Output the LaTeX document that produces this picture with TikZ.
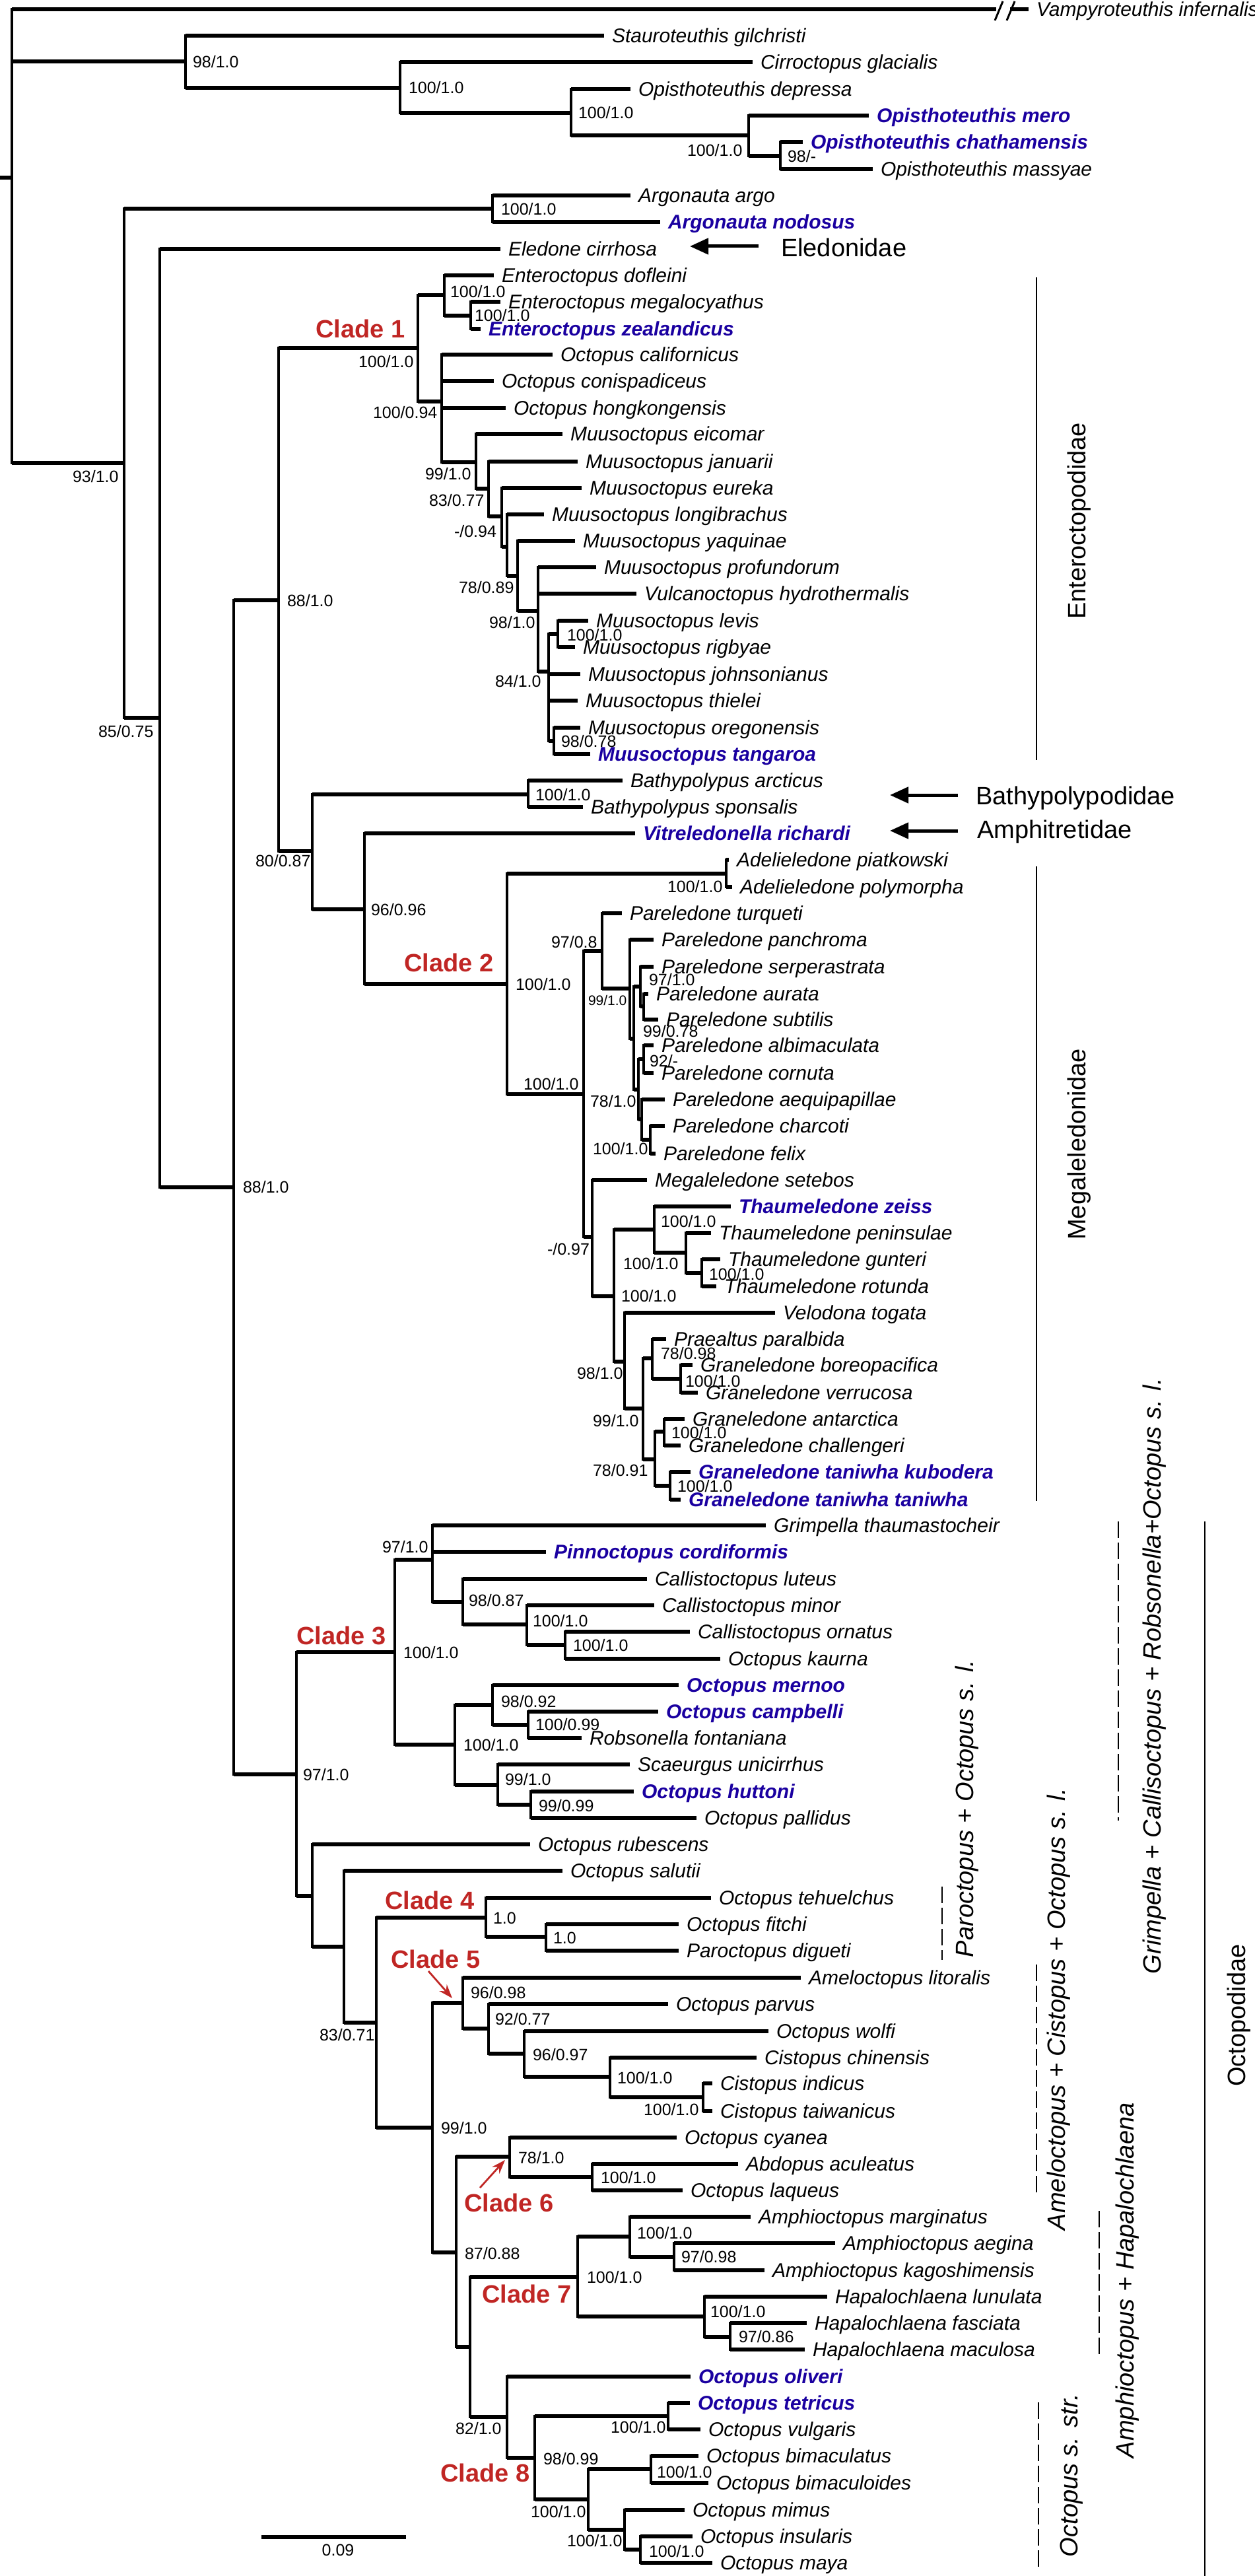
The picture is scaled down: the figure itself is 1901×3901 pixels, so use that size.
\documentclass[tikz,border=0pt]{standalone}
\usepackage{fontspec}
\setmainfont{Liberation Sans}
\usetikzlibrary{arrows.meta}
\definecolor{cladered}{RGB}{192,38,36}
\definecolor{taxblue}{RGB}{26,0,160}
\newcommand\taxfont{\fontsize{6pt}{7pt}\selectfont\itshape}
\newcommand\taxbfont{\fontsize{6pt}{7pt}\selectfont\bfseries\itshape}
\newcommand\phybr[2]{\draw[vbr] (#1) -- (#1 |- #2); \draw[hbr] (#1 |- #2) -- (#2);}
\newcommand\phyin[4]{\coordinate (#2) at (#3,#4); \phybr{#1}{#2}}
\newcommand\phylf[5]{\node[taxon] (#2) at (#3,#4) {#5}; \phybr{#1}{#2.west}}
\newcommand\phylb[5]{\node[btaxon] (#2) at (#3,#4) {#5}; \phybr{#1}{#2.west}}
\newcommand\physup[4]{\node[supp] (#1) at (#2,#3) {#4};}
\tikzset{
 hbr/.style={line width=1.2pt},
 vbr/.style={line width=0.7pt, line cap=rect},
 taxon/.style={anchor=west, inner xsep=2.2pt, inner ysep=0pt, font=\taxfont, text height=4.3pt, text depth=0pt},
 btaxon/.style={taxon, text=taxblue, font=\taxbfont},
 supp/.style={anchor=west, inner sep=0pt, font=\fontsize{5pt}{6pt}\selectfont, text height=3.58pt, text depth=0pt},
 clade/.style={inner sep=0pt, text=cladered, font=\fontsize{7.6pt}{9pt}\selectfont\bfseries, text height=5.44pt, text depth=0pt},
 fam/.style={anchor=west, inner sep=0pt, font=\fontsize{7.6pt}{9pt}\selectfont, text height=5.44pt, text depth=0pt},
 grp/.style={rotate=90, inner sep=0pt, font=\fontsize{7.6pt}{9pt}\selectfont, text height=5.44pt, text depth=0pt},
 bar/.style={line width=0.5pt},
 dbar/.style={line width=0.5pt, dash pattern=on 5pt off 1.4pt},
 famarrow/.style={line width=1pt, -{Triangle[length=5.6pt,width=4.8pt]}},
 redarrow/.style={draw=cladered, line width=0.55pt, -{Stealth[length=4.2pt,width=3pt]}},
}
\begin{document}
\begin{tikzpicture}[x=0.2pt,y=-0.2pt]
\useasboundingbox (0,0) rectangle (1901,3901);
% ---------- root ----------
\coordinate (r0) at (0,269);
\coordinate (root) at (18,269);
\draw[hbr] (r0) -- (root);
\node[taxon] (vamp) at (1558,14) {Vampyroteuthis infernalis};
\coordinate (brkA) at (1509,14);
\coordinate (brkB) at (1530,14);
\draw[vbr] (root) -- (root |- vamp.west);
\draw[hbr] (root |- vamp.west) -- (brkA);
\draw[hbr] (brkB) -- (vamp.west);
\coordinate (sl1a) at (1507,31); \coordinate (sl1b) at (1519,2);
\coordinate (sl2a) at (1525,31); \coordinate (sl2b) at (1537,2);
\draw[line width=0.6pt] (sl1a) -- (sl1b);
\draw[line width=0.6pt] (sl2a) -- (sl2b);
% ---------- Cirrata ----------
\phyin{root}{cir}{281}{93}
\phylf{cir}{stau}{915}{54}{Stauroteuthis gilchristi}
\phyin{cir}{cir2}{606}{133}
\phylf{cir2}{cirro}{1140}{94}{Cirroctopus glacialis}
\phyin{cir2}{opi}{865}{171}
\phylf{opi}{odep}{955}{135}{Opisthoteuthis depressa}
\phyin{opi}{opi2}{1134}{205}
\phylb{opi2}{omero}{1316}{175}{Opisthoteuthis mero}
\phyin{opi2}{opi3}{1182}{236}
\phylb{opi3}{ochat}{1216}{215}{Opisthoteuthis chathamensis}
\phylf{opi3}{omass}{1322}{256}{Opisthoteuthis massyae}
\physup{s1}{291}{94}{98/1.0}
\physup{s2}{618}{133}{100/1.0}
\physup{s3}{875}{171}{100/1.0}
\physup{s4}{1040}{228}{100/1.0}
\physup{s5}{1192}{237}{98/-}
% ---------- Incirrata ----------
\phyin{root}{inc}{188}{701}
\physup{s6}{109}{722}{93/1.0}
\phyin{inc}{arg}{746}{316}
\physup{s7}{758}{317}{100/1.0}
\phylf{arg}{aargo}{955}{296}{Argonauta argo}
\phylb{arg}{anod}{1000}{336}{Argonauta nodosus}
\phyin{inc}{oct}{242}{1087}
\physup{s8}{148}{1108}{85/0.75}
\phylf{oct}{eled}{758}{377}{Eledone cirrhosa}
\phyin{oct}{n354}{354}{1798}
\physup{s9}{367}{1798}{88/1.0}
\phyin{n354}{n422}{422}{909}
\physup{s10}{434}{910}{88/1.0}
% Clade 1
\phyin{n422}{c1}{633}{527}
\physup{s11}{542}{548}{100/1.0}
\node[clade] (cl1) at (546,498) {Clade 1};
\phyin{c1}{ent}{673}{447}
\physup{s12}{681}{442}{100/1.0}
\phylf{ent}{edof}{748}{417}{Enteroctopus dofleini}
\phyin{ent}{ent2}{713}{478}
\physup{s13}{718}{478}{100/1.0}
\phylf{ent2}{emeg}{758}{457}{Enteroctopus megalocyathus}
\phylb{ent2}{ezea}{728}{498}{Enteroctopus zealandicus}
\phyin{c1}{n669}{669}{608}
\physup{s14}{564}{625}{100/0.94}
\phylf{n669}{ocal}{837}{537}{Octopus californicus}
\phylf{n669}{ocon}{748}{577}{Octopus conispadiceus}
\phylf{n669}{ohon}{766}{618}{Octopus hongkongensis}
\phyin{n669}{mu1}{721}{700}
\physup{s15}{643}{718}{99/1.0}
\phylf{mu1}{meic}{852}{657}{Muusoctopus eicomar}
\phyin{mu1}{mu2}{740}{740}
\physup{s16}{649}{758}{83/0.77}
\phylf{mu2}{mjan}{875}{699}{Muusoctopus januarii}
\phyin{mu2}{mu3}{760}{782}
\physup{s17}{687}{805}{-/0.94}
\phylf{mu3}{meur}{881}{739}{Muusoctopus eureka}
\phyin{mu3}{mu4}{768}{828}
\phylf{mu4}{mlon}{824}{779}{Muusoctopus longibrachus}
\phyin{mu4}{mu5}{784}{872}
\physup{s18}{694}{890}{78/0.89}
\phylf{mu5}{myaq}{871}{819}{Muusoctopus yaquinae}
\phyin{mu5}{mu6}{815}{925}
\physup{s19}{740}{943}{98/1.0}
\phylf{mu6}{mpro}{903}{859}{Muusoctopus profundorum}
\phylf{mu6}{vulc}{964}{899}{Vulcanoctopus hydrothermalis}
\phyin{mu6}{mu7}{831}{1017}
\physup{s20}{749}{1032}{84/1.0}
\phyin{mu7}{mu8}{845}{960}
\physup{s21}{858}{962}{100/1.0}
\phylf{mu8}{mlev}{891}{940}{Muusoctopus levis}
\phylf{mu8}{mrig}{871}{980}{Muusoctopus rigbyae}
\phylf{mu7}{mjoh}{879}{1021}{Muusoctopus johnsonianus}
\phylf{mu7}{mthi}{875}{1061}{Muusoctopus thielei}
\phyin{mu7}{mu9}{839}{1122}
\physup{s22}{849}{1123}{98/0.78}
\phylf{mu9}{more}{879}{1102}{Muusoctopus oregonensis}
\phylb{mu9}{mtan}{894}{1142}{Muusoctopus tangaroa}
% Bathypolypodidae, Amphitretidae, Megaleledonidae
\phyin{n422}{n473}{473}{1289}
\physup{s23}{386}{1304}{80/0.87}
\phyin{n473}{bat}{800}{1203}
\physup{s24}{810}{1204}{100/1.0}
\phylf{bat}{barc}{943}{1182}{Bathypolypus arcticus}
\phylf{bat}{bspo}{883}{1222}{Bathypolypus sponsalis}
\phyin{n473}{n552}{552}{1377}
\physup{s25}{561}{1378}{96/0.96}
\phylb{n552}{vitr}{962}{1262}{Vitreledonella richardi}
\phyin{n552}{c2}{768}{1490}
\physup{s26}{780}{1491}{100/1.0}
\node[clade] (cl2) at (680,1458) {Clade 2};
\phyin{c2}{ade}{1100}{1323}
\physup{s27}{1010}{1343}{100/1.0}
\phylf{ade}{apia}{1104}{1302}{Adelieledone piatkowski}
\phylf{ade}{apol}{1109}{1343}{Adelieledone polymorpha}
\phyin{c2}{par0}{884}{1657}
\physup{s28}{792}{1642}{100/1.0}
\phyin{par0}{pa1}{912}{1440}
\physup{s29}{834}{1427}{97/0.8}
\phylf{pa1}{ptur}{942}{1383}{Pareledone turqueti}
\phyin{pa1}{pa2}{954}{1497}
\node[supp,font=\fontsize{4.2pt}{5pt}\selectfont,text height=3pt] (s30) at (890,1515) {99/1.0};
\phylf{pa2}{ppan}{990}{1423}{Pareledone panchroma}
\phyin{pa2}{paQ}{960}{1573}
\physup{s31}{973}{1562}{99/0.78}
\phyin{paQ}{paC}{970}{1494}
\physup{s32}{982}{1484}{97/1.0}
\phylf{paC}{pser}{990}{1464}{Pareledone serperastrata}
\phyin{paC}{paE}{975}{1524}
\phylf{paE}{paur}{982}{1505}{Pareledone aurata}
\phylf{paE}{psub}{997}{1544}{Pareledone subtilis}
\phyin{paQ}{paR}{967}{1650}
\physup{s33}{893}{1668}{78/1.0}
\phyin{paR}{paS}{975}{1604}
\physup{s34}{983}{1607}{92/-}
\phylf{paS}{palb}{990}{1583}{Pareledone albimaculata}
\phylf{paS}{pcor}{990}{1625}{Pareledone cornuta}
\phyin{paR}{paT}{972}{1695}
\phylf{paT}{paeq}{1007}{1665}{Pareledone aequipapillae}
\phyin{paT}{paU}{985}{1726}
\physup{s35}{897}{1740}{100/1.0}
\phylf{paU}{pcha}{1007}{1705}{Pareledone charcoti}
\phylf{paU}{pfel}{993}{1747}{Pareledone felix}
\phyin{par0}{meg}{897}{1873}
\physup{s36}{828}{1892}{-/0.97}
\phylf{meg}{mset}{980}{1787}{Megaleledone setebos}
\phyin{meg}{thX}{930}{1963}
\physup{s37}{940}{1963}{100/1.0}
\phyin{thX}{th1}{991}{1862}
\physup{s38}{1000}{1850}{100/1.0}
\phylb{th1}{tzei}{1107}{1827}{Thaumeledone zeiss}
\phyin{th1}{th2}{1039}{1897}
\physup{s39}{943}{1914}{100/1.0}
\phylf{th2}{tpen}{1077}{1867}{Thaumeledone peninsulae}
\phyin{th2}{th3}{1063}{1928}
\physup{s40}{1073}{1930}{100/1.0}
\phylf{th3}{tgun}{1091}{1907}{Thaumeledone gunteri}
\phylf{th3}{trot}{1085}{1948}{Thaumeledone rotunda}
\phyin{thX}{gr0}{946}{2062}
\physup{s41}{873}{2080}{98/1.0}
\phylf{gr0}{velo}{1174}{1988}{Velodona togata}
\phyin{gr0}{gr1}{974}{2133}
\physup{s42}{897}{2152}{99/1.0}
\phyin{gr1}{gr2}{988}{2057}
\physup{s43}{1000}{2050}{78/0.98}
\phylf{gr2}{ppar}{1009}{2028}{Praealtus paralbida}
\phyin{gr2}{gr3}{1031}{2088}
\physup{s44}{1037}{2092}{100/1.0}
\phylf{gr3}{gbor}{1049}{2067}{Graneledone boreopacifica}
\phylf{gr3}{gver}{1057}{2109}{Graneledone verrucosa}
\phyin{gr1}{gr4}{992}{2210}
\physup{s45}{897}{2227}{78/0.91}
\phyin{gr4}{gr5}{1006}{2168}
\physup{s46}{1016}{2170}{100/1.0}
\phylf{gr5}{gant}{1037}{2149}{Graneledone antarctica}
\phylf{gr5}{gcha}{1031}{2189}{Graneledone challengeri}
\phyin{gr4}{gr6}{1015}{2250}
\physup{s47}{1025}{2251}{100/1.0}
\phylb{gr6}{gkub}{1046}{2229}{Graneledone taniwha kubodera}
\phylb{gr6}{gtan}{1031}{2271}{Graneledone taniwha taniwha}
% ---------- Octopodidae ----------
\phyin{n354}{opd}{449}{2687}
\physup{s48}{458}{2688}{97/1.0}
\phyin{opd}{c3}{598}{2502}
\physup{s49}{610}{2503}{100/1.0}
\node[clade] (cl3) at (517,2477) {Clade 3};
\phyin{c3}{gp}{655}{2362}
\physup{s50}{578}{2343}{97/1.0}
\phylf{gp}{grim}{1160}{2310}{Grimpella thaumastocheir}
\phylb{gp}{pinn}{827}{2350}{Pinnoctopus cordiformis}
\phyin{gp}{cal1}{701}{2426}
\physup{s51}{709}{2424}{98/0.87}
\phylf{cal1}{clut}{980}{2391}{Callistoctopus luteus}
\phyin{cal1}{cal2}{798}{2460}
\physup{s52}{806}{2455}{100/1.0}
\phylf{cal2}{cmin}{991}{2431}{Callistoctopus minor}
\phyin{cal2}{cal3}{856}{2491}
\physup{s53}{867}{2492}{100/1.0}
\phylf{cal3}{corn}{1045}{2471}{Callistoctopus ornatus}
\phylf{cal3}{okau}{1091}{2512}{Octopus kaurna}
\phyin{c3}{rob}{689}{2642}
\physup{s54}{701}{2643}{100/1.0}
\phyin{rob}{rob1}{746}{2582}
\physup{s55}{758}{2577}{98/0.92}
\phylb{rob1}{omer}{1028}{2552}{Octopus mernoo}
\phyin{rob1}{rob2}{800}{2612}
\physup{s56}{810}{2612}{100/0.99}
\phylb{rob2}{ocam}{997}{2592}{Octopus campbelli}
\phylf{rob2}{rfon}{881}{2632}{Robsonella fontaniana}
\phyin{rob}{sca}{754}{2703}
\physup{s57}{764}{2695}{99/1.0}
\phylf{sca}{suni}{954}{2672}{Scaeurgus unicirrhus}
\phyin{sca}{hut}{804}{2733}
\physup{s58}{815}{2735}{99/0.99}
\phylb{hut}{ohut}{960}{2713}{Octopus huttoni}
\phylf{hut}{opal}{1055}{2753}{Octopus pallidus}
\phyin{opd}{o2}{473}{2871}
\phylf{o2}{orub}{803}{2793}{Octopus rubescens}
\phyin{o2}{o3}{521}{2948}
\phylf{o3}{osal}{852}{2833}{Octopus salutii}
\phyin{o3}{o4}{570}{3063}
\physup{s59}{483}{3082}{83/0.71}
\phyin{o4}{c4}{736}{2904}
\physup{s60}{746}{2905}{1.0}
\node[clade] (cl4) at (651,2878) {Clade 4};
\phylf{c4}{oteh}{1077}{2874}{Octopus tehuelchus}
\phyin{c4}{c4b}{827}{2933}
\physup{s61}{837}{2935}{1.0}
\phylf{c4b}{ofit}{1028}{2914}{Octopus fitchi}
\phylf{c4b}{pdig}{1028}{2954}{Paroctopus digueti}
\phyin{o4}{o5}{655}{3222}
\physup{s62}{667}{3223}{99/1.0}
\phyin{o5}{c5}{701}{3033}
\physup{s63}{712}{3018}{96/0.98}
\node[clade] (cl5) at (660,2967) {Clade 5};
\coordinate (ar5a) at (649,2985); \coordinate (ar5b) at (685,3026);
\draw[redarrow] (ar5a) -- (ar5b);
\phylf{c5}{amel}{1213}{2995}{Ameloctopus litoralis}
\phyin{c5}{c5b}{740}{3072}
\physup{s64}{749}{3058}{92/0.77}
\phylf{c5b}{opar}{1012}{3035}{Octopus parvus}
\phyin{c5b}{c5c}{794}{3110}
\physup{s65}{806}{3112}{96/0.97}
\phylf{c5c}{owol}{1164}{3076}{Octopus wolfi}
\phyin{c5c}{cis1}{924}{3145}
\physup{s66}{934}{3147}{100/1.0}
\phylf{cis1}{cchi}{1146}{3116}{Cistopus chinensis}
\phyin{cis1}{cis2}{1065}{3176}
\physup{s67}{974}{3195}{100/1.0}
\phylf{cis2}{cind}{1079}{3155}{Cistopus indicus}
\phylf{cis2}{ctai}{1079}{3197}{Cistopus taiwanicus}
\phyin{o5}{o6}{691}{3411}
\physup{s68}{703}{3413}{87/0.88}
\phyin{o6}{c6}{772}{3266}
\physup{s69}{784}{3268}{78/1.0}
\phylf{c6}{ocya}{1025}{3237}{Octopus cyanea}
\phyin{c6}{abd}{897}{3297}
\physup{s70}{909}{3298}{100/1.0}
\phylf{abd}{aacu}{1118}{3277}{Abdopus aculeatus}
\phylf{abd}{olaq}{1034}{3317}{Octopus laqueus}
\node[clade] (cl6) at (771,3336) {Clade 6};
\coordinate (ar6a) at (727,3313); \coordinate (ar6b) at (765,3271);
\draw[redarrow] (ar6a) -- (ar6b);
\phyin{o6}{o7}{712}{3554}
\phyin{o7}{c7}{875}{3448}
\physup{s71}{888}{3449}{100/1.0}
\node[clade] (cl7) at (798,3474) {Clade 7};
\phyin{c7}{amp1}{954}{3387}
\physup{s72}{964}{3382}{100/1.0}
\phylf{amp1}{amar}{1137}{3357}{Amphioctopus marginatus}
\phyin{amp1}{amp2}{1021}{3418}
\physup{s73}{1031}{3418}{97/0.98}
\phylf{amp2}{aaeg}{1265}{3397}{Amphioctopus aegina}
\phylf{amp2}{akag}{1158}{3438}{Amphioctopus kagoshimensis}
\phyin{c7}{hap1}{1067}{3508}
\physup{s74}{1075}{3501}{100/1.0}
\phylf{hap1}{hlun}{1253}{3478}{Hapalochlaena lunulata}
\phyin{hap1}{hap2}{1106}{3539}
\physup{s75}{1118}{3539}{97/0.86}
\phylf{hap2}{hfas}{1222}{3518}{Hapalochlaena fasciata}
\phylf{hap2}{hmac}{1219}{3558}{Hapalochlaena maculosa}
\phyin{o7}{c8}{768}{3660}
\physup{s76}{689}{3678}{82/1.0}
\phylb{c8}{ooli}{1046}{3599}{Octopus oliveri}
\phyin{c8}{c8b}{810}{3722}
\physup{s77}{822}{3724}{98/0.99}
\node[clade] (cl8) at (735,3745) {Clade 8};
\phyin{c8b}{vul}{1012}{3659}
\physup{s78}{924}{3675}{100/1.0}
\phylb{vul}{otet}{1045}{3639}{Octopus tetricus}
\phylf{vul}{ovul}{1061}{3679}{Octopus vulgaris}
\phyin{c8b}{bim0}{891}{3785}
\physup{s79}{803}{3803}{100/1.0}
\phyin{bim0}{bim}{986}{3739}
\physup{s80}{994}{3743}{100/1.0}
\phylf{bim}{obmt}{1058}{3719}{Octopus bimaculatus}
\phylf{bim}{obmd}{1073}{3760}{Octopus bimaculoides}
\phyin{bim0}{may0}{946}{3831}
\physup{s81}{858}{3848}{100/1.0}
\phylf{may0}{omim}{1037}{3801}{Octopus mimus}
\phyin{may0}{may}{970}{3861}
\physup{s82}{982}{3864}{100/1.0}
\phylf{may}{oins}{1049}{3841}{Octopus insularis}
\phylf{may}{omay}{1079}{3881}{Octopus maya}
% ---------- family arrows ----------
\node[fam] (fEle) at (1182,375) {Eledonidae};
\coordinate (ea1) at (1149,373); \coordinate (ea2) at (1045,373);
\draw[famarrow] (ea1) -- (ea2);
\node[fam] (fBat) at (1477,1205) {Bathypolypodidae};
\coordinate (ba1) at (1451,1204); \coordinate (ba2) at (1348,1204);
\draw[famarrow] (ba1) -- (ba2);
\node[fam] (fAmp) at (1479,1256) {Amphitretidae};
\coordinate (aa1) at (1451,1258); \coordinate (aa2) at (1348,1258);
\draw[famarrow] (aa1) -- (aa2);
% ---------- bars ----------
\coordinate (eb1) at (1570,420); \coordinate (eb2) at (1570,1151);
\draw[bar] (eb1) -- (eb2);
\node[grp] (gEnt) at (1631,789) {Enteroctopodidae};
\coordinate (mb1) at (1570,1312); \coordinate (mb2) at (1570,2273);
\draw[bar] (mb1) -- (mb2);
\node[grp] (gMeg) at (1631,1733) {Megaleledonidae};
\coordinate (ob1) at (1825,2304); \coordinate (ob2) at (1825,3901);
\draw[bar] (ob1) -- (ob2);
\node[grp] (gOct) at (1873,3052) {Octopodidae};
\coordinate (gb1) at (1694,2304); \coordinate (gb2) at (1694,2757);
\draw[dbar] (gb1) -- (gb2);
\node[grp] (gGri) at (1745,2538) {\itshape Grimpella + Callisoctopus + Robsonella+Octopus s. l.};
\coordinate (pb1) at (1427,2857); \coordinate (pb2) at (1427,2968);
\draw[dbar] (pb1) -- (pb2);
\node[grp,anchor=west] (gPar) at (1461,2965) {\itshape Paroctopus + Octopus s. l.};
\coordinate (ab1) at (1570,2975); \coordinate (ab2) at (1570,3322);
\draw[dbar] (ab1) -- (ab2);
\node[grp,anchor=west] (gAme) at (1600,3378) {\itshape Ameloctopus + Cistopus + Octopus s. l.};
\coordinate (hb1) at (1665,3348); \coordinate (hb2) at (1665,3572);
\draw[dbar] (hb1) -- (hb2);
\node[grp,anchor=west] (gAmp) at (1704,3723) {\itshape Amphioctopus + Hapalochlaena};
\coordinate (sb1) at (1573,3638); \coordinate (sb2) at (1573,3888);
\draw[dbar] (sb1) -- (sb2);
\node[grp,anchor=west] (gStr) at (1619,3873) {\itshape Octopus s. str.};
% ---------- scale bar ----------
\coordinate (sc1) at (396,3842); \coordinate (sc2) at (615,3842);
\draw[hbr] (sc1) -- (sc2);
\node[supp,anchor=center] (scl) at (512,3861) {0.09};
\end{tikzpicture}
\end{document}
